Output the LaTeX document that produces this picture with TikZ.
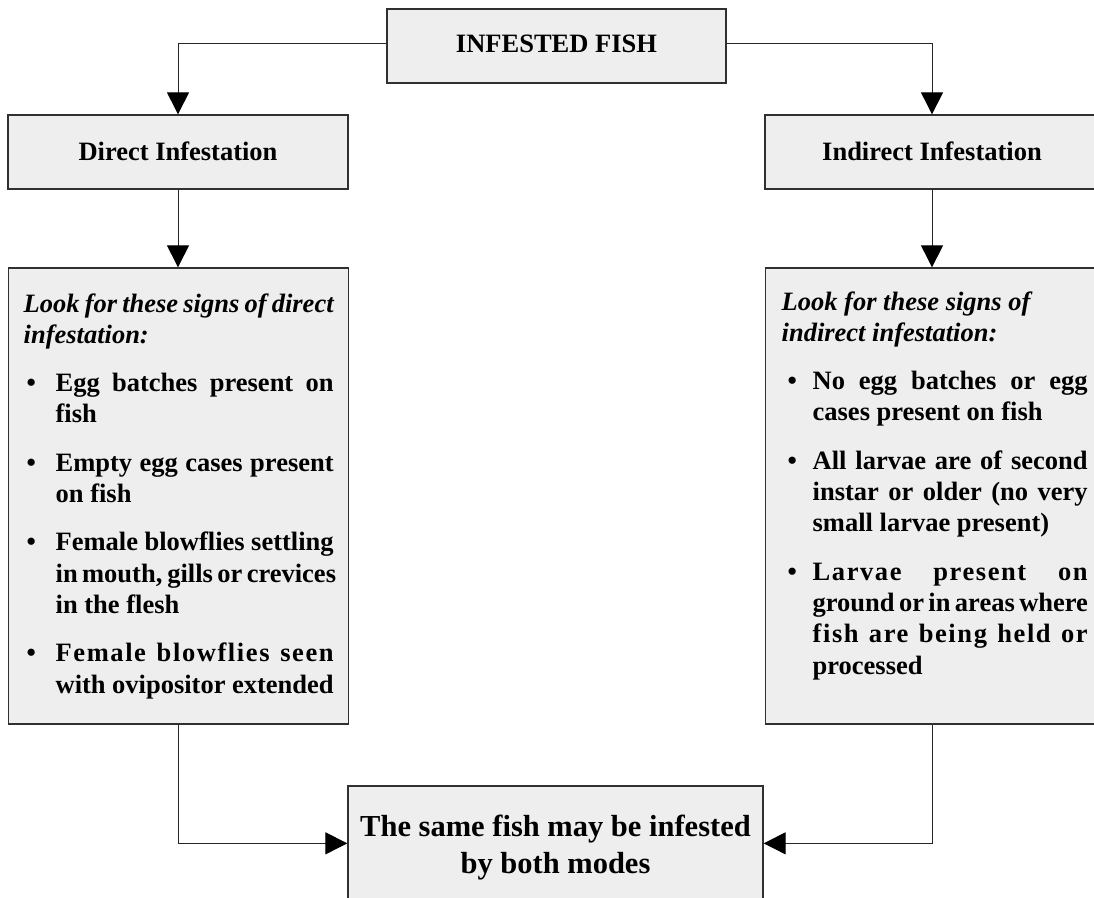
\documentclass[tikz,border=0pt]{standalone}
\usepackage{fontspec}
\setmainfont{Liberation Serif}
\usetikzlibrary{arrows.meta,calc}

\definecolor{panelfill}{HTML}{EEEEEE}
\definecolor{edgegrey}{HTML}{303030}
\definecolor{wiregrey}{HTML}{262626}

% body text: bold serif, fixed leading
\newcommand\bodysize{\fontsize{26.5}{31.3}\selectfont}
% bullet list lines set by hand: bullet indent and text indent
\newlength\bulx
\newlength\txtx
\newcommand\bfirst[1]{\hspace*{\bulx}\makebox[\dimexpr\txtx-\bulx\relax][l]{\textbullet}\makebox[\dimexpr\linewidth-\txtx\relax][s]{#1}}
\newcommand\bfull[1]{\hspace*{\txtx}\makebox[\dimexpr\linewidth-\txtx\relax][s]{#1}}
\newcommand\blast[1]{\hspace*{\txtx}#1}
\newcommand\spaced[1]{{\addfontfeature{LetterSpace=6}#1}}

\begin{document}
\begin{tikzpicture}[x=1pt,y=1pt,
  panel/.style={draw=edgegrey, line width=1.3pt, fill=panelfill, inner ysep=0pt},
  heading/.style={font=\bodysize\bfseries},
  wire/.style={draw=wiregrey, line width=1pt,
    -{Triangle[length=22pt,width=22pt,color=black,fill=black]}}]

\useasboundingbox (0,0) rectangle (1094,-897);
\clip (0,0) rectangle (1094,-897);

% top box
\node[panel, heading, minimum width=339pt, text height=43pt, text depth=31pt, anchor=base]
  (fish) at (556.5,-52) {INFESTED FISH};

% the two modes
\node[panel, heading, minimum width=340pt, text height=45pt, text depth=29pt, anchor=base]
  (direct) at (178,-160) {Direct Infestation};
\node[panel, heading, minimum width=334pt, text height=45pt, text depth=29pt, anchor=base]
  (indirect) at (932,-160) {Indirect Infestation};

% signs of direct infestation
\node[panel, anchor=base west, inner xsep=15pt, text height=44pt, text depth=412pt]
  (dsigns) at (8,-312) {\parbox[t]{310pt}{\bodysize\bfseries
    \setlength\bulx{3pt}\setlength\txtx{32pt}%
    \makebox[\linewidth][s]{\itshape Look for these signs of direct}\\
    {\itshape infestation:}\\[17pt]
    \bfirst{Egg batches present on}\\
    \blast{fish}\\[17pt]
    \bfirst{Empty egg cases present}\\
    \blast{on fish}\\[17pt]
    \bfirst{Female blowflies settling}\\
    \bfull{in mouth, gills or crevices}\\
    \blast{in the flesh}\\[17pt]
    \bfirst{\spaced{Female blowflies seen}}\\
    \bfull{with ovipositor extended}}};

% signs of indirect infestation
\node[panel, anchor=base west, inner xsep=16pt, text height=42pt, text depth=414pt]
  (isigns) at (765,-310) {\parbox[t]{306pt}{\bodysize\bfseries
    \setlength\bulx{6pt}\setlength\txtx{31pt}%
    {\itshape Look for these signs of}\\
    {\itshape indirect infestation:}\\[17pt]
    \bfirst{No egg batches or egg}\\
    \blast{cases present on fish}\\[17pt]
    \bfirst{All larvae are of second}\\
    \bfull{instar or older (no very}\\
    \blast{small larvae present)}\\[17pt]
    \bfirst{\spaced{Larvae present on}}\\
    \bfull{ground or in areas where}\\
    \bfull{\spaced{fish are being held or}}\\
    \blast{processed}}};

% conclusion
\node[panel, anchor=base, inner xsep=8pt, text height=50pt, text depth=120pt]
  (both) at (555.5,-836) {\parbox[t]{399pt}{\centering\fontsize{30.5}{37}\selectfont\bfseries
    The same fish may be infested\\by both modes}};

% connectors
\draw[wire] ([yshift=3pt]fish.west) -| (direct.north);
\draw[wire] ([yshift=3pt]fish.east) -| (indirect.north);
\draw[wire] (direct.south) -- (direct.south |- dsigns.north);
\draw[wire] (indirect.south) -- (indirect.south |- isigns.north);
\coordinate (meet) at ([yshift=-58pt]both.north);
\draw[wire] (direct.south |- dsigns.south) |- (both.west |- meet);
\draw[wire] (indirect.south |- isigns.south) |- (both.east |- meet);
\end{tikzpicture}
\end{document}
